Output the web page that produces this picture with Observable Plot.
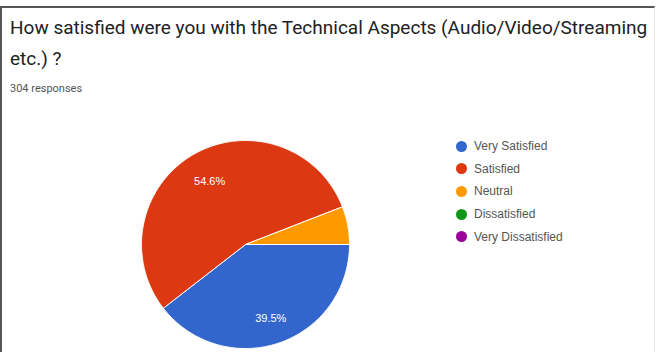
<!DOCTYPE html>
<html>
<head>
<meta charset="utf-8">
<script src="https://cdn.jsdelivr.net/npm/d3@7"></script>
<script src="https://cdn.jsdelivr.net/npm/@observablehq/plot@0.6"></script>
<style>
  html, body { margin: 0; padding: 0; background: #fff; }
  #frame { position: absolute; left: 0; top: 6px; width: 652px; height: 346px;
           border-top: 2px solid #555; border-left: 2px solid #555; border-right: 1px solid #e6e6e6; }
  #title { position: absolute; left: 10px; top: 12px; font-family: Roboto, sans-serif;
           font-size: 19px; line-height: 31px; color: #202124; white-space: nowrap; }
  #sub { position: absolute; left: 10px; top: 82px; font-family: Roboto, sans-serif;
         font-size: 11px; color: #555; }
  #chart { position: absolute; left: 0; top: 100px; }
  #legend { position: absolute; left: 456px; top: 135px; font-family: Arial, "Liberation Sans", sans-serif;
            font-size: 12px; color: #555; }
  #legend div { height: 22.6px; display: flex; align-items: center; }
  #legend span.sw { width: 11px; height: 11px; border-radius: 50%; display: inline-block; margin-right: 7px; }
</style>
</head>
<body>
<div id="frame"></div>
<div id="title">How satisfied were you with the Technical Aspects (Audio/Video/Streaming<br>etc.) ?</div>
<div id="sub">304 responses</div>
<div id="chart"></div>
<div id="legend"></div>
<script>
const categories = ["Very Satisfied", "Satisfied", "Neutral", "Dissatisfied", "Very Dissatisfied"];
const percents = [39.5, 54.6, 5.9, 0, 0];
const colors = ["#3366cc", "#dc3912", "#ff9900", "#109618", "#990099"];
const labelText = ["39.5%", "54.6%", "", "", ""];

// start angle at 3 o'clock, clockwise
const pie = d3.pie().sort(null).value(d => d.value).startAngle(Math.PI / 2).endAngle(Math.PI / 2 + 2 * Math.PI);
const arcs = pie(categories.map((c, i) => ({cat: c, value: percents[i], label: labelText[i]})));

// polygon outline of each slice, in unit-circle coordinates (angle from 12 o'clock, clockwise)
const poly = [];
arcs.forEach(a => {
  if (a.endAngle - a.startAngle <= 0) return;
  poly.push({cat: a.data.cat, x: 0, y: 0});
  const n = Math.max(4, Math.ceil((a.endAngle - a.startAngle) / 0.01));
  for (let k = 0; k <= n; k++) {
    const t = a.startAngle + (a.endAngle - a.startAngle) * k / n;
    poly.push({cat: a.data.cat, x: Math.sin(t), y: Math.cos(t)});
  }
  poly.push({cat: a.data.cat, x: 0, y: 0});
});
const labels = arcs.filter(a => a.data.label).map(a => {
  const m = (a.startAngle + a.endAngle) / 2;
  const r = a.data.cat === "Very Satisfied" ? 0.75 : 0.7;
  return {x: r * Math.sin(m), y: r * Math.cos(m), text: a.data.label};
});

const plot = Plot.plot({
  width: 658,
  height: 252,
  marginLeft: 141,
  marginRight: 309,
  marginTop: 40,
  marginBottom: 4,
  x: {domain: [-1, 1], axis: null},
  y: {domain: [-1, 1], axis: null},
  color: {domain: categories, range: colors},
  style: {background: "transparent"},
  marks: [
    Plot.line(poly, {x: "x", y: "y", z: "cat", fill: "cat", stroke: "#fff", strokeWidth: 1, strokeLinejoin: "round", curve: "linear"}),
    Plot.text(labels, {x: "x", y: "y", text: "text", fill: "#fff", fontSize: 11, fontFamily: "Arial, 'Liberation Sans', sans-serif"})
  ]
});
document.getElementById("chart").appendChild(plot);

const leg = document.getElementById("legend");
categories.forEach((c, i) => {
  const row = document.createElement("div");
  row.innerHTML = `<span class="sw" style="background:${colors[i]}"></span>${c}`;
  leg.appendChild(row);
});
</script>
</body>
</html>
